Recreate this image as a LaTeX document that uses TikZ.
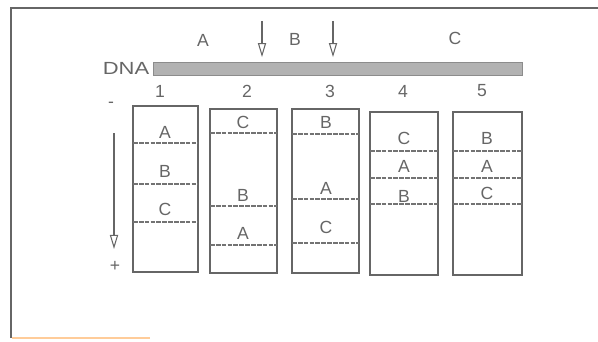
\documentclass[tikz,border=0pt]{standalone}
\usepackage{fontspec}
\setmainfont{Liberation Sans}
\usetikzlibrary{arrows.meta}
\begin{document}
\begin{tikzpicture}[x=0.03cm, y=-0.03cm, >={Triangle[open, length=12pt, width=7pt]},
    every node/.style={text=black!60, font=\fontsize{15}{17}\selectfont},
    gel/.style={draw=black!60, line width=1pt},
    band/.style={draw=black!55, line width=1.4pt, dash pattern=on 4pt off 1pt},
    cut/.style={->, draw=black!60, line width=0.9pt}]

    % Marco y limites
    \useasboundingbox (0,0) rectangle (598,342);
    \draw[gel] (11,338) -- (11,8) -- (598,8);
    \draw[draw=orange!40, line width=1pt] (12,338) -- (150,338);

    % Fragmentos y cortes
    \node (fa) at (203,40) {A};
    \node (fb) at (295,39) {B};
    \node (fc) at (455,38) {C};
    \node[draw=black!45, fill=black!30, minimum width=369*0.03cm, minimum height=13*0.03cm,
        inner sep=0pt] (dna) at (337.5,68.5) {};
    \node[xscale=1.25] (dnalabel) at (126,68) {DNA};
    \coordinate (cut1) at (262,21);
    \coordinate (cut2) at (333,21);
    \draw[cut] (cut1) -- ([yshift=4pt]cut1 |- dna.north);
    \draw[cut] (cut2) -- ([yshift=4pt]cut2 |- dna.north);

    % Carriles del gel
    \foreach \n/\xa/\xb/\ya/\yb/\xn in {1/133/198/106/272/160, 2/210/277/109/273/247,
        3/292/359/109/273/330, 4/370/438/112/275/403, 5/453/522/112/275/482} {
        \draw[gel] (\xa,\ya) rectangle (\xb,\yb);
        \node (num\n) at (\xn,91) {\n};
    }

    % Bandas
    \foreach \xa/\xb/\y in {133/198/143, 133/198/184, 133/198/222,
        210/277/133, 210/277/206, 210/277/245,
        292/359/134, 292/359/199, 292/359/243,
        370/438/151, 370/438/178, 370/438/204,
        453/522/151, 453/522/178, 453/522/204}
        \draw[band] (\xa,\y) -- (\xb,\y);

    % Etiquetas de las bandas
    \node (a1) at (165,132) {A};
    \node (b1) at (165,171) {B};
    \node (c1) at (165,209) {C};
    \node (c2) at (243,122) {C};
    \node (b2) at (243,195) {B};
    \node (a2) at (243,233) {A};
    \node (b3) at (326,122) {B};
    \node (a3) at (326,188) {A};
    \node (c3) at (326,227) {C};
    \node (c4) at (404,138) {C};
    \node (a4) at (404,166) {A};
    \node (b4) at (404,196) {B};
    \node (b5) at (487,138) {B};
    \node (a5) at (487,166) {A};
    \node (c5) at (487,193) {C};

    % Polos y direccion de migracion
    \node (neg) at (111,105) {-};
    \node (pos) at (115,266) {+};
    \coordinate (mtop) at (114,133);
    \coordinate (mbot) at (114,249);
    \draw[cut] (mtop) -- (mbot);

\end{tikzpicture}
\end{document}
